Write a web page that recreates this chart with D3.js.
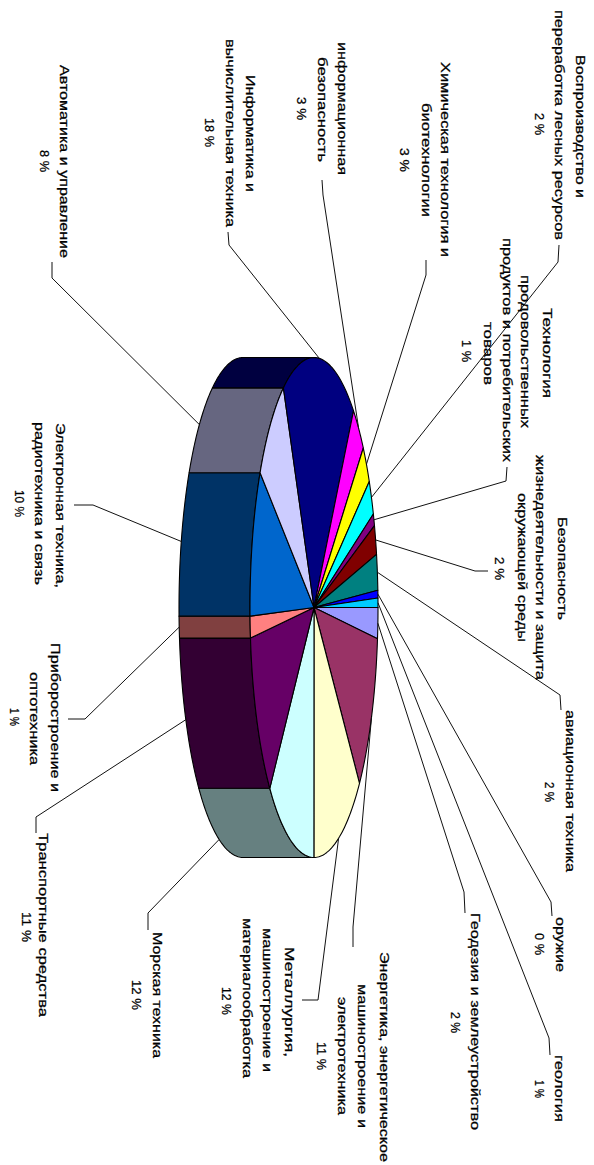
<!DOCTYPE html>
<html><head><meta charset="utf-8">
<script src="https://cdn.jsdelivr.net/npm/d3@7"></script>
<style>html,body{margin:0;padding:0;background:#fff;overflow:hidden}svg{display:block}
text{font-family:"Liberation Sans",Arial,sans-serif;font-size:13px;fill:#000;stroke:#000;stroke-width:.25px}</style>
</head><body><svg id="c" width="594" height="1165"></svg>
<script>
const categories=[["Геодезия и землеустройство"],["Энергетика, энергетическое","машиностроение и","электротехника"],["Металлургия,","машиностроение и","материалообработка"],["Морская техника"],["Транспортные средства"],["Приборостроение и","оптотехника"],["Электронная техника,","радиотехника и связь"],["Автоматика и управление"],["Информатика и","вычислительная техника"],["информационная","безопасность"],["Химическая технология и","биотехнологии"],["Воспроизводство и","переработка лесных ресурсов"],["Технология","продовольственных","продуктов и потребительских","товаров"],["Безопасность","жизнедеятельности и защита","окружающей среды"],["авиационная техника"],["оружие"],["геология"]];
const shares=[2,10.4,12.6,12.1,10.9,1.4,9.6,8,18.5,3.4,2.6,2.3,0.8,1.9,2.3,0.5,0.6];
const percents=["2 %","11 %","12 %","12 %","11 %","1 %","10 %","8 %","18 %","3 %","3 %","2 %","1 %","2 %","2 %","0 %","1 %"];
const colors=["#9999ff","#993366","#ffffcc","#ccffff","#660066","#ff8080","#0066cc","#ccccff","#000080","#ff00ff","#ffff00","#00ffff","#800080","#800000","#008080","#0000ff","#00ccff"];

// layout only: per label, each text line as [baseline x, start y, end y]
const textLayout=[
[[471,913,1130],[451,1012,1033]],
[[380,952,1162],[358,984,1128],[338,997,1115],[317,1042,1070]],
[[285,947,1057],[263,928,1072],[243,918,1078],[222,987,1015]],
[[153,932,1058],[132,980,1010]],
[[39,833,1017],[22,912,942]],
[[51,643,792],[30,672,765],[10,708,726]],
[[56,423,588],[35,422,585],[15,490,517]],
[[60,65,258],[40,150,172]],
[[246,75,192],[226,39,227],[205,118,147]],
[[338,42,175],[318,57,162],[297,97,120]],
[[441,62,257],[422,103,217],[400,148,172]],
[[576,55,198],[555,10,240],[535,113,135]],
[[543,308,398],[521,275,428],[503,238,462],[484,322,385],[462,340,362]],
[[558,517,620],[536,455,680],[518,493,642],[495,557,580]],
[[566,710,872],[545,782,802]],
[[556,917,972],[535,933,955]],
[[555,1055,1122],[535,1080,1098]]];
// leader line: label end and elbow, the slice end comes from the pie
const leaderLayout=[
[[465,913],[464,892]],[[353,947],[353,927]],[[302,1000],[318,1000]],[[148,930],[148,913]],[[36,833],[36,817]],
[[68,719],[85,719]],[[74,505],[93,505]],[[52,262],[52,278]],[[228,232],[229,245]],[[322,180],[323,195]],
[[426,260],[426,275]],[[559,245],[558,262]],[[507,467],[506,481]],[[488,571],[475,571]],[[561,710],[560,695]],
[[552,916],[551,902]],[[550,1055],[549,1038]]];

const svg=d3.select("#c");
const xS=d3.scaleLinear().domain([-1,1]).range([250,378]);
const yS=d3.scaleLinear().domain([-1,1]).range([357.5,857.5]);
const depth=71;
const pie=d3.pie().sort(null).value((d,i)=>shares[i]);
const arcs=pie(shares);
const pt=(a,dx=0)=>[xS(Math.cos(a))-dx,yS(Math.sin(a))];
const line=d3.line();
const sample=(a0,a1,dx)=>d3.range(0,41).map(k=>pt(a0+(a1-a0)*k/40,dx));
const P=Math.PI;
const halfTone=c=>{const r=d3.rgb(c);return d3.rgb(r.r/2,r.g/2,r.b/2);};

// side wall (visible half only)
svg.append("g").selectAll("path").data(arcs.filter(d=>d.endAngle>P/2&&d.startAngle<3*P/2)).join("path")
 .attr("d",d=>{const a=Math.max(d.startAngle,P/2),b=Math.min(d.endAngle,3*P/2);
   return line([...sample(a,b,0),...sample(b,a,depth)])+"Z";})
 .attr("fill",d=>halfTone(colors[d.index]))
 .attr("stroke","#000").attr("stroke-width",1.1).attr("stroke-linejoin","round");

// top face
svg.append("g").selectAll("path").data(arcs).join("path")
 .attr("d",d=>line([[xS(0),yS(0)],...sample(d.startAngle,d.endAngle,0)])+"Z")
 .attr("fill",d=>colors[d.index])
 .attr("stroke","#000").attr("stroke-width",1.1).attr("stroke-linejoin","round");

// leaders
svg.append("g").selectAll("path").data(arcs).join("path")
 .attr("d",d=>{const m=(d.startAngle+d.endAngle)/2;
   const onWall=m>P/2&&m<3*P/2;
   const [e,k]=leaderLayout[d.index];
   return line([e,k,pt(m,onWall?depth:0)]);})
 .attr("fill","none").attr("stroke","#111").attr("stroke-width",1);

// labels
const gT=svg.append("g");
categories.forEach((ls,i)=>{
  [...ls,percents[i]].forEach((s,j)=>{
    const [x,y0,y1]=textLayout[i][j];
    gT.append("text").attr("transform",`translate(${x},${y0}) rotate(90)`)
      .attr("textLength",y1-y0).attr("lengthAdjust","spacingAndGlyphs").text(s);
  });
});
</script></body></html>
